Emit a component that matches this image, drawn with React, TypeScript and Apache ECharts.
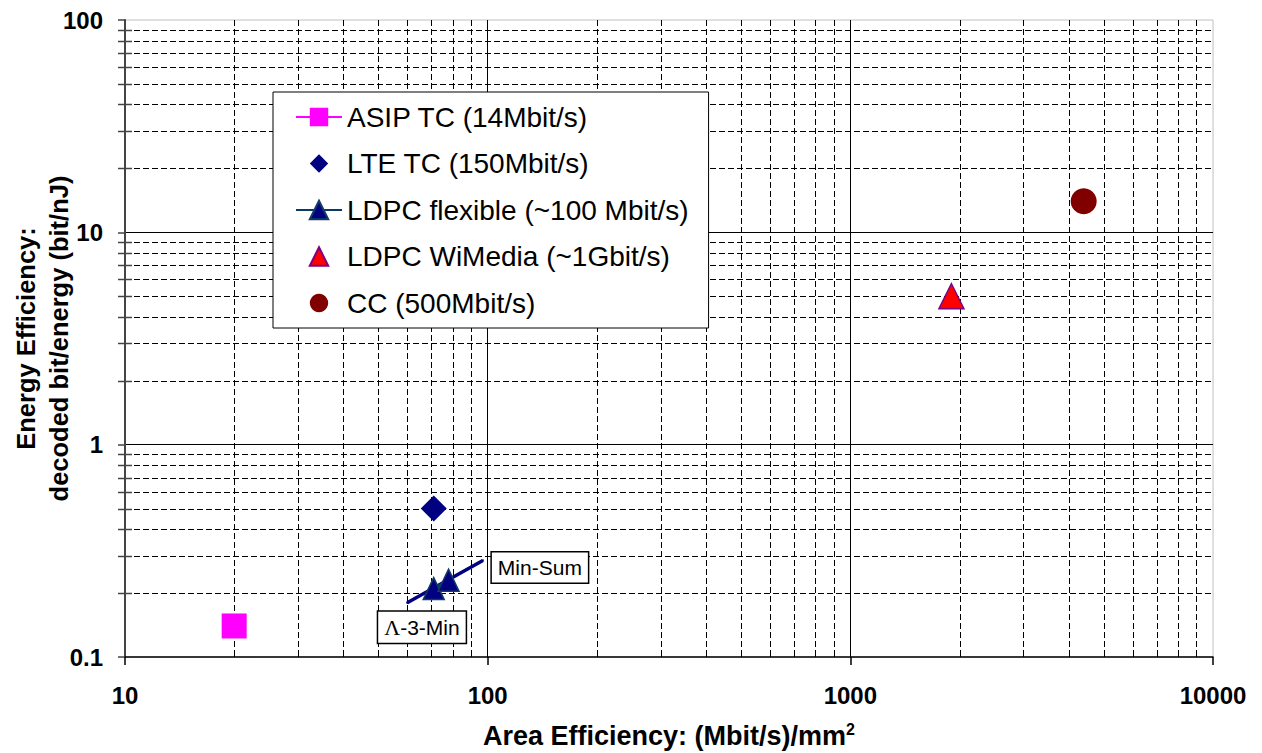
import React, { useEffect, useRef } from 'react';
import * as echarts from 'echarts';

const FONT = "'Liberation Sans', Arial, Helvetica, sans-serif";

// ---- data ----
const seriesNames = [
  'ASIP TC (14Mbit/s)',
  'LTE TC (150Mbit/s)',
  'LDPC flexible (~100 Mbit/s)',
  'LDPC WiMedia (~1Gbit/s)',
  'CC (500Mbit/s)',
];
const asipTC = [[20, 0.14]];
const lteTC = [[71, 0.5]];
const ldpcFlexible = [[71, 0.21], [78, 0.23]];
const ldpcWiMedia = [[1900, 5]];
const ccData = [[4400, 14]];
const annotationLine = [[60, 0.18], [97, 0.285]];
const annotationLabels = ['{g|\u039b}-3-Min', 'Min-Sum'];
const xTicks = [10, 100, 1000, 10000];
const yTicks = [0.1, 1, 10, 100];
const xTickLabels = ['10', '100', '1000', '10000'];
const yTickLabels = ['0.1', '1', '10', '100'];
const minorSteps = [2, 3, 4, 5, 6, 7, 8, 9];

const minorOf = (ticks: number[]) => {
  const out: number[] = [];
  for (let i = 0; i < ticks.length - 1; i++) {
    for (const k of minorSteps) out.push(+(ticks[i] * k).toPrecision(6));
  }
  return out;
};
const xMinor = minorOf(xTicks);
const yMinor = minorOf(yTicks);

const labelFor = (ticks: number[], labels: string[]) => (v: number) => {
  for (let i = 0; i < ticks.length; i++) {
    if (Math.abs(v - ticks[i]) / ticks[i] < 1e-6) return labels[i];
  }
  return '';
};

const DASH = [6, 3];

export default function App() {
  const ref = useRef<HTMLDivElement>(null);
  useEffect(() => {
    if (!ref.current) return;
    const chart = echarts.init(ref.current, null, { renderer: 'svg' });
    const option: any = {
      animation: false,
      backgroundColor: '#fff',
      grid: {
        left: 125, right: 49, top: 20, bottom: 96,
        containLabel: false,
        outerBoundsMode: 'none',
        show: true, borderColor: '#c0c0c0', borderWidth: 1, backgroundColor: 'transparent',
      },
      xAxis: {
        type: 'log', logBase: 10, min: 10, max: 10000,
        axisLine: { show: true, onZero: false, lineStyle: { color: '#000', width: 1.5 } },
        axisTick: { show: true, length: 8, lineStyle: { color: '#000', width: 1.5 } },
        axisLabel: {
          fontSize: 24, fontWeight: 'bold', color: '#000', fontFamily: FONT, margin: 26,
          formatter: labelFor(xTicks, xTickLabels),
        },
        splitLine: { show: true, showMinLine: false, showMaxLine: false, lineStyle: { color: '#000', width: 1 } },
        minorTick: { show: false },
        minorSplitLine: { show: false },
        name: '{a|Area Efficiency: (Mbit/s)/mm}{s|2}',
        nameLocation: 'middle',
        nameGap: 64,
        nameMoveOverlap: false,
        nameTextStyle: {
          rich: {
            a: { fontSize: 27, fontWeight: 'bold', color: '#000', fontFamily: FONT, lineHeight: 30 },
            s: { fontSize: 16, fontWeight: 'bold', color: '#000', fontFamily: FONT, verticalAlign: 'top', lineHeight: 30 },
          },
        },
      },
      yAxis: {
        type: 'log', logBase: 10, min: 0.1, max: 100,
        axisLine: { show: true, onZero: false, lineStyle: { color: '#444', width: 2 } },
        axisTick: { show: true, length: 7, lineStyle: { color: '#444', width: 1.5 } },
        axisLabel: {
          fontSize: 24, fontWeight: 'bold', color: '#000', fontFamily: FONT, margin: 22,
          formatter: labelFor(yTicks, yTickLabels),
        },
        splitLine: { show: true, showMinLine: false, showMaxLine: false, lineStyle: { color: '#000', width: 1 } },
        minorTick: { show: false },
        minorSplitLine: { show: false },
        name: 'Energy Efficiency:\ndecoded bit/energy (bit/nJ)',
        nameLocation: 'middle',
        nameRotate: 90,
        nameGap: 50,
        nameMoveOverlap: false,
        nameTextStyle: { fontSize: 25.5, fontWeight: 'bold', color: '#000', fontFamily: FONT, lineHeight: 33 },
      },
      legend: {
        orient: 'vertical',
        left: 273, top: 92,
        padding: [11, 20, 11, 22],
        itemWidth: 46, itemHeight: 23, itemGap: 18.5,
        backgroundColor: '#fff', borderColor: '#000', borderWidth: 1,
        textStyle: { fontFamily: FONT, fontSize: 28, color: '#000' },
        data: seriesNames,
      },
      series: [
        {
          type: 'custom', name: 'minorX', silent: true, z: 1,
          data: xMinor.map((v) => [v, 1]),
          renderItem: (params: any, api: any) => {
            const cs = params.coordSys;
            const x = Math.round(api.coord([api.value(0), 1])[0]) + 0.5;
            const b = cs.y + cs.height;
            return {
              type: 'group',
              children: [
                { type: 'line', shape: { x1: x, y1: cs.y, x2: x, y2: b }, style: { stroke: '#000', lineWidth: 1, lineDash: DASH } },
                { type: 'line', shape: { x1: x, y1: b - 7, x2: x, y2: b }, style: { stroke: '#000', lineWidth: 1 } },
              ],
            };
          },
        },
        {
          type: 'custom', name: 'minorY', silent: true, z: 1,
          data: yMinor.map((v) => [10, v]),
          renderItem: (params: any, api: any) => {
            const cs = params.coordSys;
            const y = Math.round(api.coord([10, api.value(1)])[1]) + 0.5;
            return {
              type: 'group',
              children: [
                { type: 'line', shape: { x1: cs.x, y1: y, x2: cs.x + cs.width, y2: y }, style: { stroke: '#000', lineWidth: 1, lineDash: DASH } },
                { type: 'line', shape: { x1: cs.x - 7, y1: y, x2: cs.x + 7, y2: y }, style: { stroke: '#444', lineWidth: 1.5 } },
              ],
            };
          },
        },
        {
          type: 'line', name: 'annotation', z: 3, silent: true,
          data: annotationLine.map((p, i) => ({
            value: p,
            label: i === 0
              ? { show: true, position: [-28, 10] }
              : { show: true, position: [10, -7] },
          })),
          showSymbol: true, symbol: 'circle', symbolSize: 2,
          itemStyle: { color: '#000080' },
          lineStyle: { color: '#000080', width: 3.5 },
          label: {
            show: true,
            align: 'left',
            verticalAlign: 'top',
            formatter: (p: any) => annotationLabels[p.dataIndex],
            fontFamily: FONT, fontSize: 21, color: '#000',
            backgroundColor: '#fff', borderColor: '#000', borderWidth: 1.5,
            padding: [5, 6, 4, 6],
            rich: {
              g: { fontFamily: "'Liberation Serif', 'Times New Roman', serif", fontSize: 22, color: '#000' },
            },
          },
          labelLayout: { hideOverlap: false },
        },
        {
          type: 'line', name: seriesNames[0], z: 4, data: asipTC,
          symbol: 'rect', symbolSize: 25,
          itemStyle: { color: '#ff00ff' },
          lineStyle: { color: '#ff00ff', width: 3 },
        },
        {
          type: 'line', name: seriesNames[1], z: 4, data: lteTC,
          symbol: 'diamond', symbolSize: 26,
          itemStyle: { color: '#000080' },
          lineStyle: { color: '#000080', width: 0, opacity: 0 },
        },
        {
          type: 'line', name: seriesNames[2], z: 4, data: ldpcFlexible,
          symbol: 'triangle', symbolSize: [21, 22],
          itemStyle: { color: '#000080', borderColor: '#123c63', borderWidth: 1.5 },
          lineStyle: { color: '#0b3a66', width: 3 },
        },
        {
          type: 'line', name: seriesNames[3], z: 4, data: ldpcWiMedia,
          symbol: 'triangle', symbolSize: 25,
          itemStyle: { color: '#ff0000', borderColor: '#800080', borderWidth: 1.5 },
          lineStyle: { color: '#ff0000', width: 0, opacity: 0 },
        },
        {
          type: 'line', name: seriesNames[4], z: 4, data: ccData,
          symbol: 'circle', symbolSize: 26,
          itemStyle: { color: '#800000' },
          lineStyle: { color: '#800000', width: 0, opacity: 0 },
        },
      ],
    };
    chart.setOption(option);
    return () => chart.dispose();
  }, []);
  return (
    <div
      ref={ref}
      style={{ position: 'fixed', left: 0, top: 0, width: 1262, height: 753, background: '#fff' }}
    />
  );
}
